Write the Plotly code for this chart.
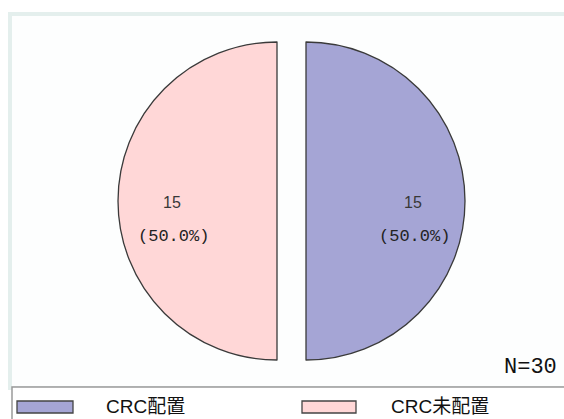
import plotly.graph_objects as go

# Category data
categories = ["CRC配置", "CRC未配置"]
counts = [15, 15]
colors = ["#a5a5d5", "#ffd7d7"]

W, H = 564, 419
total = sum(counts)


def px(x):
    return x / W


def py(y):
    return 1 - y / H


fig = go.Figure()
fig.add_trace(go.Pie(
    labels=categories,
    values=counts,
    sort=False,
    direction="clockwise",
    rotation=0,
    pull=[0.0912, 0.0912],
    marker=dict(colors=colors, line=dict(color="#3a3a3a", width=1.3)),
    textinfo="none",
    hoverinfo="label+value+percent",
    showlegend=False,
    domain=dict(x=[px(118), px(465)], y=[py(374.5), py(27.5)]),
))

annotations = []
# count / percent labels on each half
label_x = [413, 172]
for cx, v in zip(label_x, counts):
    annotations.append(dict(
        x=px(cx), y=py(202), xref="paper", yref="paper", showarrow=False,
        text=f"{v}", font=dict(family="'Liberation Sans', Arial, sans-serif", size=16, color="#383838"),
        xanchor="center", yanchor="middle"))
    annotations.append(dict(
        x=px(cx + 1), y=py(236), xref="paper", yref="paper", showarrow=False,
        text=f"({v / total * 100:.1f}%)",
        font=dict(family="'Liberation Mono', 'Courier New', monospace", size=17, color="#222222"),
        xanchor="center", yanchor="middle"))

# total count
annotations.append(dict(
    x=px(559), y=py(367), xref="paper", yref="paper", showarrow=False,
    text=f"N={total}",
    font=dict(family="'Liberation Mono', 'Courier New', monospace", size=22, color="#111111"),
    xanchor="right", yanchor="middle"))

shapes = [
    # outer panel frame
    dict(type="rect", xref="paper", yref="paper", x0=px(10), x1=px(570), y0=py(388), y1=py(14),
         line=dict(color="#e4efed", width=4), fillcolor="#fdfefe", layer="below"),
    # legend box
    dict(type="rect", xref="paper", yref="paper", x0=px(12), x1=px(570), y0=py(430), y1=py(387),
         line=dict(color="#9a9a9a", width=1.5), fillcolor="white", layer="below"),
]

# legend entries
swatch_x = [(17, 73), (302, 356)]
text_x = [104, 389]
for (x0, x1), tx, name, col in zip(swatch_x, text_x, categories, colors):
    shapes.append(dict(type="rect", xref="paper", yref="paper", x0=px(x0), x1=px(x1),
                       y0=py(413), y1=py(401), fillcolor=col,
                       line=dict(color="#444444", width=1.3)))
    annotations.append(dict(
        x=px(tx), y=py(406), xref="paper", yref="paper", showarrow=False, text=name,
        font=dict(family="Arial, 'Liberation Sans', 'Noto Sans CJK JP', sans-serif", size=19, color="#111111"),
        xanchor="left", yanchor="middle"))

fig.update_layout(
    width=W, height=H,
    margin=dict(l=0, r=0, t=0, b=0),
    paper_bgcolor="white",
    plot_bgcolor="white",
    shapes=shapes,
    annotations=annotations,
)

fig.write_html("out.html")
